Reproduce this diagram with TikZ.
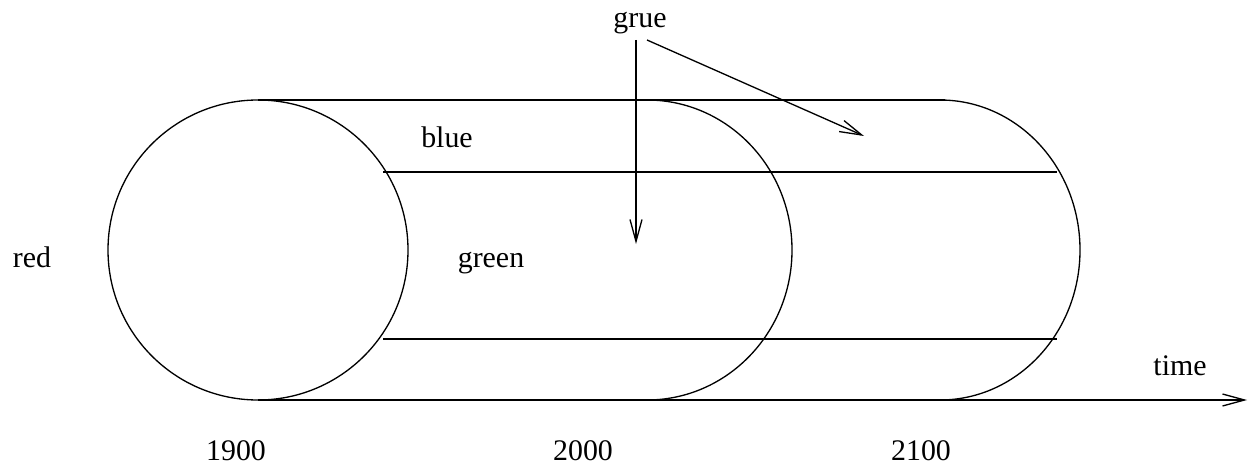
\documentclass[tikz,border=0pt]{standalone}
\usepackage{fontspec}
\setmainfont{Liberation Serif}
\usetikzlibrary{arrows.meta}

\begin{document}
\begin{tikzpicture}[x=0.2mm, y=-0.2mm, line width=0.75pt,
    lbl/.style={anchor=base, inner sep=0pt, font=\fontsize{17}{20}\selectfont},
    barb/.style={-{Straight Barb[length=4.4mm, width=2.4mm, line width=0.75pt]}}]
        \useasboundingbox (0,0) rectangle (1249,470);

        % Cylinder through time
        \draw (258,250) circle [radius=150];
        \draw (258,100) -- (945,100);
        \draw (647,100) arc [start angle=-90, end angle=90, x radius=145, y radius=150];
        \draw (940,100) arc [start angle=-90, end angle=90, x radius=140, y radius=150];
        \draw (383,172) -- (1057,172);
        \draw (383,339) -- (1057,339);

        % Time axis
        \coordinate (t0) at (258,400);
        \coordinate (t1) at (1247,400);
        \draw[barb] (t0) -- (t1);
        \node[lbl] (time) at (1180,375) {time};

        \foreach \yr/\xx in {1900/236, 2000/583, 2100/921} {
          \node[lbl] (y\yr) at (\xx,460) {\yr};
        }

        % Colour labels
        \node[lbl] (red) at (32,267) {red};
        \node[lbl] (blue) at (447,148) {blue};
        \node[lbl] (green) at (491,267) {green};
        \node[lbl] (grue) at (640,28) {grue};

        \coordinate (g1) at (636,40);
        \coordinate (g2) at (647,40);
        \coordinate (now) at (636,244);
        \coordinate (later) at (864,136);
        \draw[barb] (g1) -- (now);
        \draw[barb] (g2) -- (later);
      \end{tikzpicture}
\end{document}
